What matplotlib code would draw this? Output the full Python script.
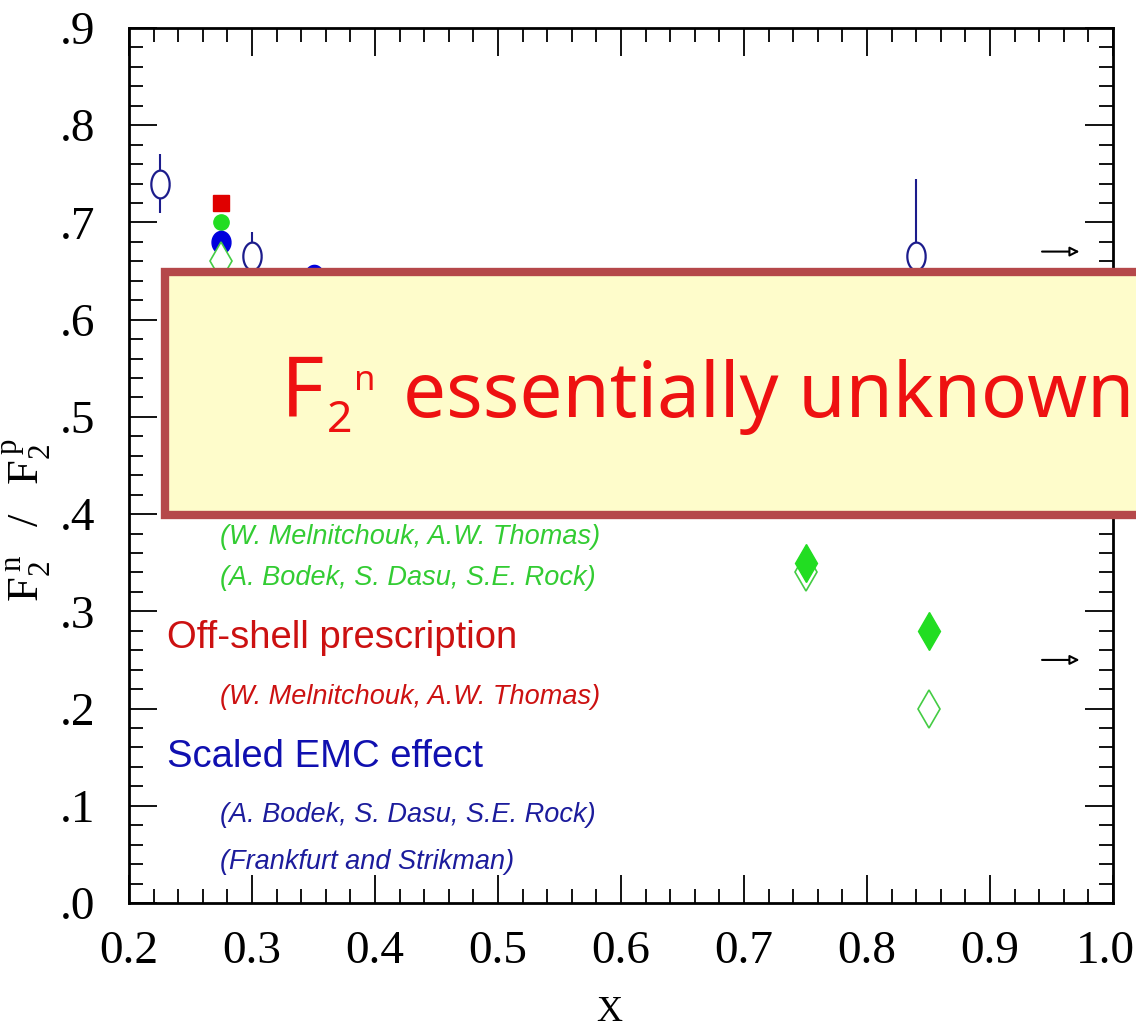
import numpy as np
import matplotlib
matplotlib.use('Agg')
import matplotlib.pyplot as plt
import matplotlib.transforms as mtransforms
from matplotlib.path import Path
from matplotlib.patches import Rectangle

plt.rcParams['mathtext.fontset'] = 'custom'
plt.rcParams['mathtext.rm'] = 'Liberation Serif'

# ---------------- data ----------------
# data points (open ellipses with error bars)
dat_x = [0.225, 0.30, 0.84]
dat_y = [0.74, 0.665, 0.665]
dat_lo = [0.03, 0.02, 0.08]
dat_hi = [0.03, 0.025, 0.08]

# model points
red_x, red_y = [0.275], [0.72]
grc_x, grc_y = [0.275], [0.70]
blue_x, blue_y = [0.275, 0.35], [0.68, 0.645]
gfd_x, gfd_y = [0.75, 0.85], [0.35, 0.28]
god_x, god_y = [0.275, 0.75, 0.85], [0.66, 0.34, 0.20]

# arrows (x start, x end, y)
arr_x0, arr_x1 = 0.94, 0.975
arr_y = [0.67, 0.25]

xticks = [0.2, 0.3, 0.4, 0.5, 0.6, 0.7, 0.8, 0.9, 1.0]
yticks = [0.0, 0.1, 0.2, 0.3, 0.4, 0.5, 0.6, 0.7, 0.8, 0.9]
ylabels = ['.0', '.1', '.2', '.3', '.4', '.5', '.6', '.7', '.8', '.9']

# ---------------- figure ----------------
fig = plt.figure(figsize=(11.36, 10.28), dpi=100)
ax = fig.add_axes([0.1136, 0.1216, 0.8662, 0.8512])

t = np.linspace(0, 2 * np.pi, 60)
ell = Path(np.column_stack([0.66 * np.cos(t), np.sin(t)]))
ell_b = Path(np.column_stack([0.85 * np.cos(t), np.sin(t)]))

navy = '#1c1c8c'
ax.errorbar(dat_x, dat_y, yerr=[dat_lo, dat_hi], fmt='none', ecolor=navy, elinewidth=1.5)
ax.plot(dat_x, dat_y, ls='none', marker=ell, ms=20, mfc='white', mec=navy, mew=1.6)

ax.plot(red_x, red_y, ls='none', marker='s', ms=12, color='#e00000')
ax.plot(grc_x, grc_y, ls='none', marker='o', ms=11, color='#22dd22')
ax.plot(blue_x, blue_y, ls='none', marker=ell_b, ms=16, color='#0000dd')
ax.plot(god_x, god_y, ls='none', marker='d', ms=19, mfc='white', mec='#44cc44', mew=1.2)
ax.plot(gfd_x, gfd_y, ls='none', marker='d', ms=19, color='#22dd22')

for y in arr_y:
    ax.annotate('', xy=(arr_x1, y), xytext=(arr_x0, y),
                arrowprops=dict(arrowstyle='-|>', color='black', lw=1.5,
                                fc='white', mutation_scale=14))

ax.set_xlim(0.2, 1.0)
ax.set_ylim(0.0, 0.9)
ax.set_xticks(xticks)
ax.set_xticklabels([f'{v:.1f}' for v in xticks])
ax.set_yticks(yticks)
ax.set_yticklabels(ylabels)
ax.set_xticks(np.arange(0.2, 1.0001, 0.02), minor=True)
ax.set_yticks(np.arange(0.0, 0.9001, 0.02), minor=True)
ax.tick_params(which='both', direction='in', top=True, right=True, width=1.3)
ax.tick_params(which='major', length=20, labelsize=34)
ax.tick_params(which='minor', length=10)
ax.tick_params(axis='x', pad=20)
ax.tick_params(axis='y', pad=24)
for lab in ax.get_xticklabels() + ax.get_yticklabels():
    lab.set_family('Liberation Serif')
# last x label sits at the figure edge, nudge it in a little
last = ax.get_xticklabels()[-1]
last.set_transform(last.get_transform() +
                   mtransforms.ScaledTranslation(-8 / 100, 0, fig.dpi_scale_trans))
for s in ax.spines.values():
    s.set_linewidth(2)

fig.text(0.536, 1 - 1021 / 1028, 'X', family='Liberation Serif', fontsize=26,
         ha='center', va='baseline')
fig.text(0.024, 0.494, r'$\mathrm{F}_{2}^{\,\mathrm{n}}\ \ /\ \ \mathrm{F}_{2}^{\,\mathrm{p}}$',
         rotation=90, fontsize=32, ha='center', va='center')

# legend-like text
green = '#33cc33'
red = '#cc1111'
blue = '#1010b0'
def lab(y, s, c, x=0.194, it=True, fs=19.5):
    fig.text(x, 1 - y / 1028, s, color=c, family='Liberation Sans', fontsize=fs,
             style='italic' if it else 'normal', va='center', ha='left')

lab(537, '(W. Melnitchouk, A.W. Thomas)', green)
lab(578, '(A. Bodek, S. Dasu, S.E. Rock)', green)
lab(638, 'Off-shell prescription', red, x=0.147, it=False, fs=27.5)
lab(697, '(W. Melnitchouk, A.W. Thomas)', red)
lab(757, 'Scaled EMC effect', blue, x=0.147, it=False, fs=27.5)
lab(815, '(A. Bodek, S. Dasu, S.E. Rock)', '#1c1c9c')
lab(862, '(Frankfurt and Strikman)', '#1c1c9c')

# overlay box
box = Rectangle((0.1452, 0.499), 1.0, 0.236, transform=fig.transFigure,
                fc='#fefccb', ec='#b5484a', lw=6, clip_on=False, zorder=5)
fig.add_artist(box)
bred = '#ee1111'
fig.text(281 / 1136, 1 - 417 / 1028, 'F', family='Noto Sans', color=bred,
         fontsize=60, va='baseline', ha='left', zorder=6)
fig.text(327 / 1136, 1 - 432 / 1028, '2', family='Noto Sans', color=bred,
         fontsize=32, va='baseline', ha='left', zorder=6)
fig.text(354 / 1136, 1 - 390 / 1028, 'n', family='Noto Sans', color=bred,
         fontsize=25, va='baseline', ha='left', zorder=6)
fig.text(403 / 1136, 1 - 417 / 1028, 'essentially unknown', family='Noto Sans',
         color=bred, fontsize=55, va='baseline', ha='left', zorder=6)

fig.savefig('out.png', dpi=100)
